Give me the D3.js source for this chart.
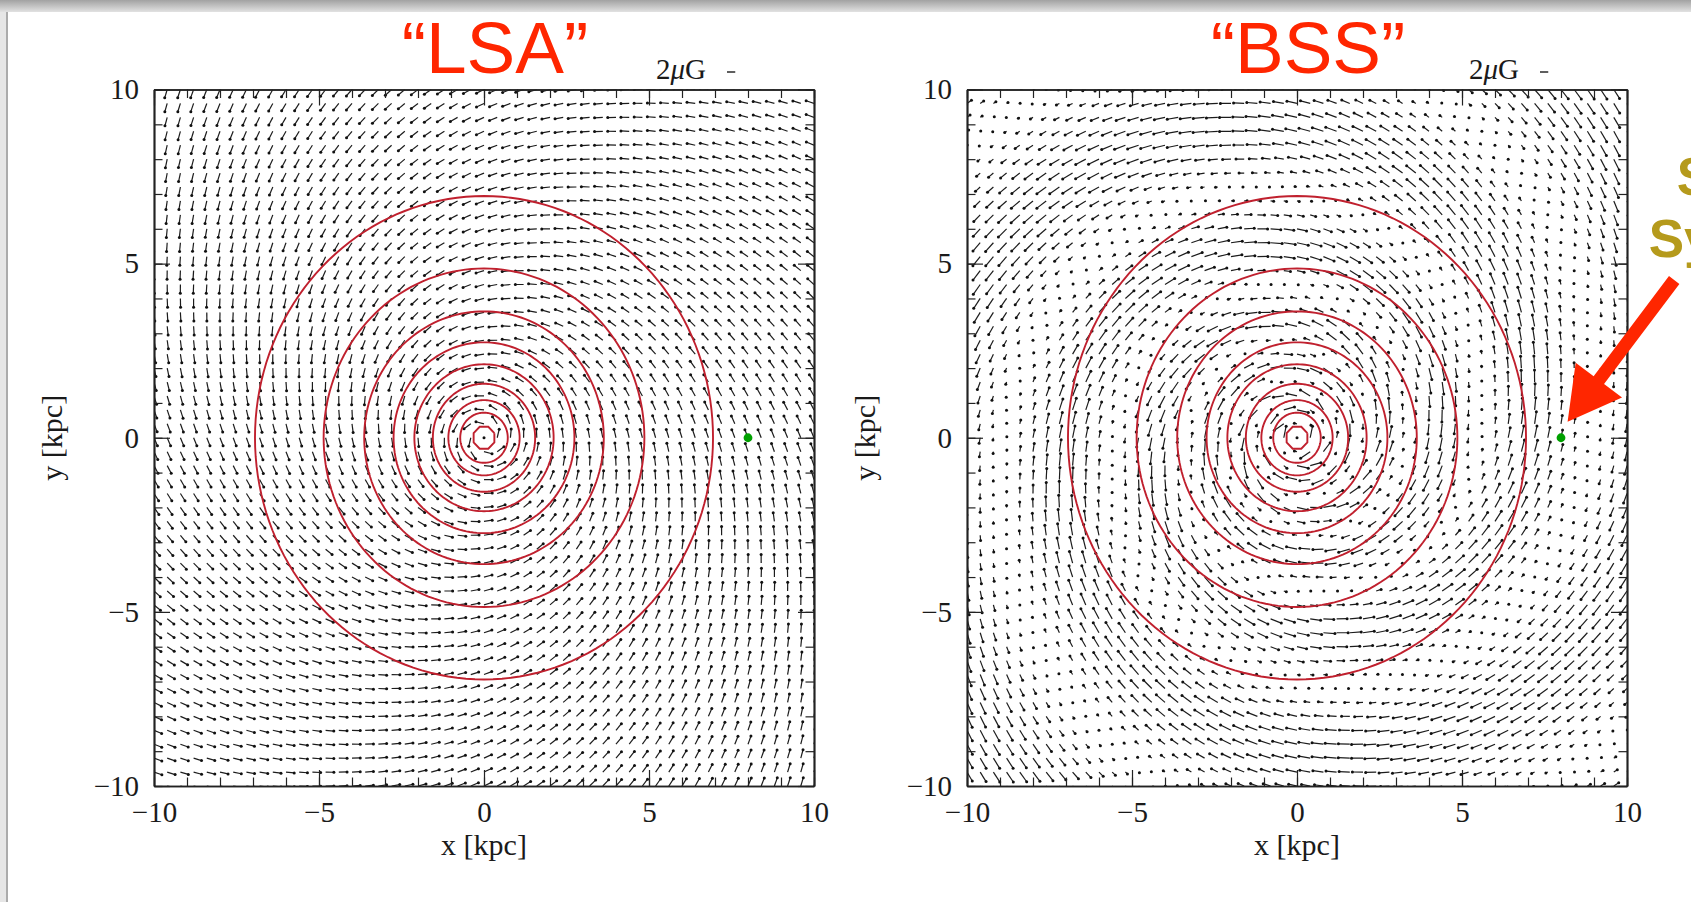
<!DOCTYPE html>
<html>
<head>
<meta charset="utf-8">
<script src="https://cdn.jsdelivr.net/npm/d3@7"></script>
<style>
  body { margin: 0; background: #fff; }
  svg { display: block; }
</style>
</head>
<body>
<div id="chart"></div>
<script>
const W = 1691, H = 902;

// ---- data ----
const panelTitles = ["“LSA”", "“BSS”"];
const majorTicks = [-10, -5, 0, 5, 10];
const minorTicks = [-10, -9, -8, -7, -6, -5, -4, -3, -2, -1, 0, 1, 2, 3, 4, 5, 6, 7, 8, 9, 10];
const contourRadii = [6.94, 4.86, 3.63, 2.74, 2.11, 1.55, 1.08, 0.72, 0.34]; // kpc
const sunPos = [8, 0];                  // kpc
const legendField = 2;                  // μG, length of the scale dash
const gridStep = 0.4;                   // kpc between field samples
const gridCount = 51;

// LSA model (logarithmic spiral, constant strength)
const lsaB0 = 2.0;                      // μG
const lsaPsi0 = 22;                     // deg, pitch at r = 8 kpc
const lsaPsi1 = 12;                     // deg per ln(r/8kpc)
// BSS model (bisymmetric spiral)
const bssB0 = 2.8;                      // μG
const bssPitch = 12;                    // deg, tilt of the field lines
const bssBeta = 6.5;                    // winding of the reversals
const bssR0 = 7.01;                     // kpc, phase zero

// annotation arrow (BSS panel data coords) and text
const pointerTail = [11.43, 4.53];
const pointerTip = [8.2, 0.46];
const sideText = ["Solar", "System"];

// ---- layout ----
const plotW = 660, plotTop = 89.5, plotBottom = 786;
const panelLeft = [154, 967];
const vecScale = 0.125;                 // kpc of arrow per μG

const deg = Math.PI / 180;
const rSun = 8;

function lsaField(x, y) {
  const r = Math.hypot(x, y);
  if (r < 1e-6) return [0, 0];
  const phi = Math.atan2(y, x);
  const psi = (lsaPsi0 + lsaPsi1 * Math.log(r / rSun)) * deg;
  const ex = -Math.sin(phi), ey = Math.cos(phi);     // azimuthal
  const rx = Math.cos(phi), ry = Math.sin(phi);      // radial
  return [lsaB0 * (Math.cos(psi) * ex - Math.sin(psi) * rx),
          lsaB0 * (Math.cos(psi) * ey - Math.sin(psi) * ry)];
}

function bssField(x, y) {
  const r = Math.hypot(x, y);
  if (r < 1e-6) return [0, 0];
  const phi = Math.atan2(y, x);
  const p = bssPitch * deg;
  const amp = bssB0 * Math.cos(phi - bssBeta * Math.log(r / bssR0));
  const ex = -Math.sin(phi), ey = Math.cos(phi);
  const rx = Math.cos(phi), ry = Math.sin(phi);
  return [amp * (Math.cos(p) * ex + Math.sin(p) * rx),
          amp * (Math.cos(p) * ey + Math.sin(p) * ry)];
}

const fields = [lsaField, bssField];
const gridVals = d3.range(gridCount).map(i => -10 + gridStep * i);
const fmt = d => d < 0 ? "\u2212" + Math.abs(d) : String(d);

const svg = d3.select('#chart')
  .append('svg')
    .attr('width', W)
    .attr('height', H);
const defs = svg.append('defs');

// slide frame
const grad = defs.append('linearGradient')
    .attr('id', 'topShade').attr('x1', 0).attr('x2', 0).attr('y1', 0).attr('y2', 1);
grad.append('stop').attr('offset', '0%').attr('stop-color', '#a2a2a2');
grad.append('stop').attr('offset', '100%').attr('stop-color', '#e2e2e2');
svg.append('rect').attr('width', W).attr('height', H).attr('fill', '#e6e6e6');
svg.append('rect').attr('width', W).attr('height', 12).attr('fill', 'url(#topShade)');
svg.append('rect').attr('x', 8).attr('y', 12).attr('width', W - 8).attr('height', H - 12).attr('fill', '#fff');
svg.append('line').attr('x1', 7).attr('x2', 7).attr('y1', 12).attr('y2', H)
    .attr('stroke', '#ababab').attr('stroke-width', 2);

panelTitles.forEach((title, i) => {
  const left = panelLeft[i];
  const x = d3.scaleLinear().domain([-10, 10]).range([left, left + plotW]);
  const y = d3.scaleLinear().domain([-10, 10]).range([plotBottom, plotTop]);
  const g = svg.append('g');

  defs.append('clipPath').attr('id', 'clip' + i)
    .append('rect')
      .attr('x', x(-10)).attr('y', y(10))
      .attr('width', x(10) - x(-10)).attr('height', y(-10) - y(10));

  // field vectors, tail at grid point, dot at head
  const vecs = [];
  gridVals.forEach(gx => gridVals.forEach(gy => {
    const b = fields[i](gx, gy);
    vecs.push({ gx: gx, gy: gy, bx: b[0], by: b[1] });
  }));
  const vg = g.append('g').attr('clip-path', `url(#clip${i})`);
  vg.selectAll('line.vec')
      .data(vecs)
    .join('line')
      .attr('class', 'vec')
      .attr('x1', d => x(d.gx))
      .attr('y1', d => y(d.gy))
      .attr('x2', d => x(d.gx + d.bx * vecScale))
      .attr('y2', d => y(d.gy + d.by * vecScale))
      .attr('stroke', '#1c1c1c')
      .attr('stroke-width', 1.2);
  vg.selectAll('circle.head')
      .data(vecs)
    .join('circle')
      .attr('class', 'head')
      .attr('cx', d => x(d.gx + d.bx * vecScale))
      .attr('cy', d => y(d.gy + d.by * vecScale))
      .attr('r', 1.5)
      .attr('fill', '#111');

  // concentric contours
  const ring = d3.line().x(d => x(d[0])).y(d => y(d[1]));
  g.selectAll('path.contour')
      .data(contourRadii)
    .join('path')
      .attr('class', 'contour')
      .attr('d', r => {
        const n = r < 0.5 ? 8 : 160;
        const off = r < 0.5 ? Math.PI / 8 : 0;
        return ring(d3.range(n + 1).map(k => {
          const a = off + 2 * Math.PI * k / n;
          return [r * Math.cos(a), r * Math.sin(a)];
        }));
      })
      .attr('fill', 'none')
      .attr('stroke', '#c0202e')
      .attr('stroke-width', 1.9);

  // sun
  g.append('circle')
      .attr('cx', x(sunPos[0])).attr('cy', y(sunPos[1]))
      .attr('r', 4.4).attr('fill', '#00a000');

  // axes: ticks inward on all four sides
  const styleAxis = sel => {
    sel.selectAll('path.domain').attr('stroke', '#222').attr('stroke-width', 1.7);
    sel.selectAll('.tick line').attr('stroke', '#222').attr('stroke-width', 1.2);
    sel.selectAll('text')
      .attr('font-family', '"Liberation Serif", serif')
      .attr('font-size', 29)
      .attr('fill', '#1a1a1a');
  };
  const axes = [
    [d3.axisBottom(x), `translate(0,${plotBottom})`, true],
    [d3.axisTop(x), `translate(0,${plotTop})`, false],
    [d3.axisLeft(y), `translate(${left},0)`, true],
    [d3.axisRight(y), `translate(${left + plotW},0)`, false]
  ];
  axes.forEach(([ax, tr, labels]) => {
    g.append('g').attr('transform', tr)
      .call(ax.tickValues(minorTicks).tickSizeInner(-8.5).tickSizeOuter(0).tickFormat(''))
      .call(styleAxis);
    g.append('g').attr('transform', tr)
      .call(ax.tickValues(majorTicks).tickSizeInner(-16).tickSizeOuter(0)
              .tickPadding(labels ? 15 : 0).tickFormat(labels ? fmt : ''))
      .call(styleAxis);
  });

  // axis titles
  g.append('text')
      .attr('x', x(0)).attr('y', 855)
      .attr('text-anchor', 'middle')
      .attr('font-family', '"Liberation Serif", serif')
      .attr('font-size', 30)
      .attr('fill', '#1a1a1a')
      .text('x [kpc]');
  g.append('text')
      .attr('transform', `translate(${left - 92},${y(0)}) rotate(-90)`)
      .attr('text-anchor', 'middle')
      .attr('font-family', '"Liberation Serif", serif')
      .attr('font-size', 30)
      .attr('fill', '#1a1a1a')
      .text('y [kpc]');

  // scale legend
  const leg = g.append('text')
      .attr('x', left + 552).attr('y', 79)
      .attr('text-anchor', 'end')
      .attr('font-family', '"Liberation Serif", serif')
      .attr('font-size', 29)
      .attr('fill', '#1a1a1a');
  leg.append('tspan').text('2');
  leg.append('tspan').attr('font-style', 'italic').text('μ');
  leg.append('tspan').text('G');
  const legX = x.invert(left + 573);
  g.append('line')
      .attr('x1', x(legX)).attr('x2', x(legX + legendField * vecScale))
      .attr('y1', 72).attr('y2', 72)
      .attr('stroke', '#1a1a1a').attr('stroke-width', 1.4);

  // panel title
  g.append('text')
      .attr('x', x(0) + 11).attr('y', 73)
      .attr('text-anchor', 'middle')
      .attr('font-family', '"Liberation Sans", Arial, sans-serif')
      .attr('font-size', 73)
      .attr('fill', '#ff2600')
      .text(title);

  if (i === 1) {
    // pointer to the sun
    const tx = x(pointerTail[0]), ty = y(pointerTail[1]);
    const hx = x(pointerTip[0]), hy = y(pointerTip[1]);
    const len = Math.hypot(hx - tx, hy - ty);
    const ux = (hx - tx) / len, uy = (hy - ty) / len, nx = -uy, ny = ux;
    const headL = 52, headW = 29, shaftW = 6.5;
    const bx = hx - ux * headL, by = hy - uy * headL;
    const pts = [
      [tx + nx * shaftW, ty + ny * shaftW],
      [bx + nx * shaftW, by + ny * shaftW],
      [bx + nx * headW, by + ny * headW],
      [hx, hy],
      [bx - nx * headW, by - ny * headW],
      [bx - nx * shaftW, by - ny * shaftW],
      [tx - nx * shaftW, ty - ny * shaftW]
    ];
    svg.append('path')
        .attr('d', d3.line()(pts) + 'Z')
        .attr('fill', '#ff2600');
    svg.append('g').selectAll('text')
        .data(sideText)
      .join('text')
        .attr('x', left + plotW + 116)
        .attr('y', (d, k) => 195 + k * 62)
        .attr('text-anchor', 'middle')
        .attr('font-family', '"Liberation Sans", Arial, sans-serif')
        .attr('font-weight', 'bold')
        .attr('font-size', 53)
        .attr('fill', '#b59a1c')
        .text(d => d);
  }
});
</script>
</body>
</html>
